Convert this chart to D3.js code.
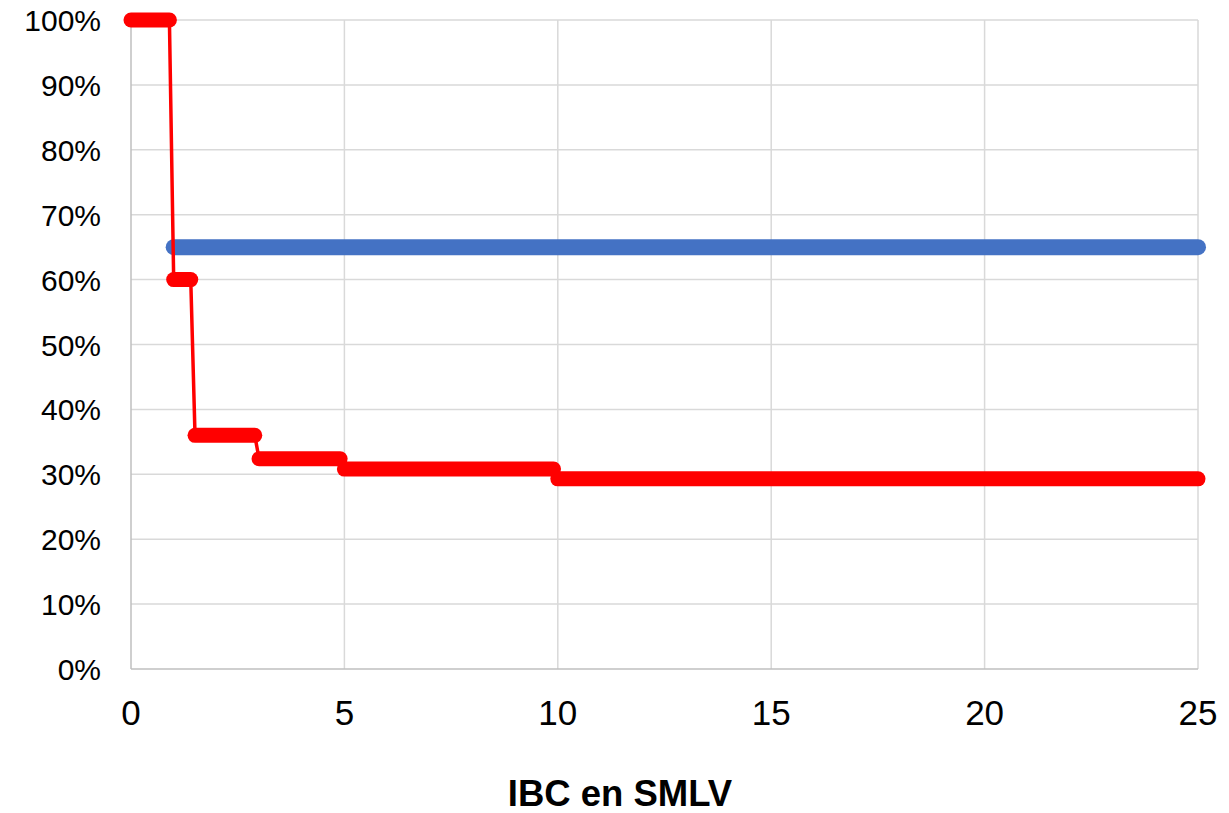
<!DOCTYPE html>
<html>
<head>
<meta charset="utf-8">
<script src="https://cdn.jsdelivr.net/npm/d3@7/dist/d3.min.js"></script>
<style>
  html, body { margin: 0; padding: 0; background: #fff; }
  svg { display: block; }
</style>
</head>
<body>
<svg id="chart" width="1229" height="813"></svg>
<script>
// ---- data ----
const xTicks = [0, 5, 10, 15, 20, 25];
const yTicks = [0, 0.1, 0.2, 0.3, 0.4, 0.5, 0.6, 0.7, 0.8, 0.9, 1.0];
// red series (step function), breakpoints of each plateau
const redX = [0, 0.9, 1.0, 1.4, 1.5, 2.9, 3.0, 4.9, 5.0, 9.9, 10.0, 25];
const redY = [1.0, 1.0, 0.60, 0.60, 0.36, 0.36, 0.324, 0.324, 0.308, 0.308, 0.293, 0.293];
// blue series (flat)
const blueX = [1.0, 25];
const blueY = [0.65, 0.65];
const xTitle = "IBC en SMLV";

// ---- layout ----
const svg = d3.select("#chart");
const m = { left: 131, right: 1198, top: 20, bottom: 669 };
const x = d3.scaleLinear().domain([0, 25]).range([m.left, m.right]);
const y = d3.scaleLinear().domain([0, 1]).range([m.bottom, m.top]);

// gridlines
svg.append("g").selectAll("line.h").data(yTicks.filter(d => d > 0)).join("line")
  .attr("x1", m.left).attr("x2", m.right)
  .attr("y1", d => y(d)).attr("y2", d => y(d))
  .attr("stroke", "#d9d9d9").attr("stroke-width", 1.5);
svg.append("g").selectAll("line.v").data(xTicks.filter(d => d > 0)).join("line")
  .attr("x1", d => x(d)).attr("x2", d => x(d))
  .attr("y1", m.top).attr("y2", m.bottom)
  .attr("stroke", "#d9d9d9").attr("stroke-width", 1.5);

// axis lines
svg.append("line").attr("x1", m.left).attr("x2", m.left).attr("y1", m.top).attr("y2", m.bottom)
  .attr("stroke", "#bfbfbf").attr("stroke-width", 1.5);
svg.append("line").attr("x1", m.left).attr("x2", m.right).attr("y1", m.bottom).attr("y2", m.bottom)
  .attr("stroke", "#bfbfbf").attr("stroke-width", 1.5);

// tick labels
svg.append("g").selectAll("text").data(yTicks).join("text")
  .attr("x", 101).attr("y", d => y(d) + 11)
  .attr("text-anchor", "end")
  .attr("font-family", "'Liberation Sans', Arial, sans-serif")
  .attr("font-size", 30).attr("fill", "#000")
  .text(d => d3.format(".0%")(d));
svg.append("g").selectAll("text").data(xTicks).join("text")
  .attr("x", d => x(d)).attr("y", m.bottom + 56)
  .attr("text-anchor", "middle")
  .attr("font-family", "'Liberation Sans', Arial, sans-serif")
  .attr("font-size", 35).attr("fill", "#000")
  .text(d => d);

// axis title
svg.append("text").attr("x", 620).attr("y", 806)
  .attr("text-anchor", "middle")
  .attr("font-family", "'Liberation Sans', Arial, sans-serif")
  .attr("font-weight", "bold").attr("font-size", 36.5).attr("fill", "#000")
  .text(xTitle);

// series
const line = d3.line().x(d => x(d[0])).y(d => y(d[1]));
const redPts = redX.map((v, i) => [v, redY[i]]);
const bluePts = blueX.map((v, i) => [v, blueY[i]]);

// blue (thick marker band)
svg.append("path").datum(bluePts).attr("d", line)
  .attr("fill", "none").attr("stroke", "#4472C4")
  .attr("stroke-width", 16).attr("stroke-linecap", "round");

// red connecting line
svg.append("path").datum(redPts).attr("d", line)
  .attr("fill", "none").attr("stroke", "#FF0000")
  .attr("stroke-width", 3.5).attr("stroke-linejoin", "round");

// red plateaus (dense markers appear as thick bands)
const plateaus = d3.range(0, redPts.length, 2).map(i => [redPts[i], redPts[i + 1]]);
svg.append("g").selectAll("path").data(plateaus).join("path")
  .attr("d", line)
  .attr("fill", "none").attr("stroke", "#FF0000")
  .attr("stroke-width", 15).attr("stroke-linecap", "round");
</script>
</body>
</html>
